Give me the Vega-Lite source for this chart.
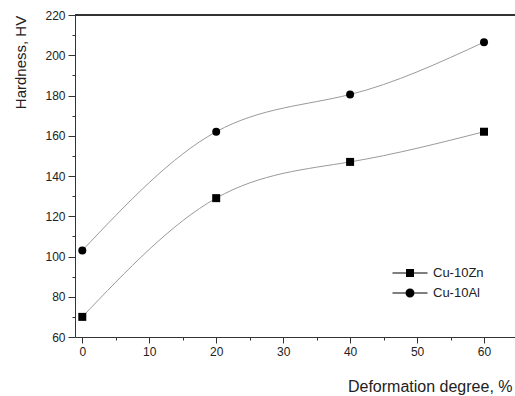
{
  "$schema": "https://vega.github.io/schema/vega-lite/v6.json",
  "width": 440,
  "height": 322,
  "autosize": {"type": "none"},
  "padding": {"left": 75, "top": 15, "right": 0, "bottom": 59},
  "background": "white",
  "config": {
    "view": {"stroke": null},
    "font": "Liberation Sans",
    "axis": {"grid": false, "domainColor": "#333", "tickColor": "#333", "labelColor": "#222", "titleColor": "#222", "labelFont": "Liberation Sans", "titleFont": "Liberation Sans", "titleFontWeight": "normal", "labelFontSize": 12}
  },
  "data": {
    "values": [
      {"deformation": 0, "hardness": 70, "alloy": "Cu-10Zn"},
      {"deformation": 20, "hardness": 129, "alloy": "Cu-10Zn"},
      {"deformation": 40, "hardness": 147, "alloy": "Cu-10Zn"},
      {"deformation": 60, "hardness": 162, "alloy": "Cu-10Zn"},
      {"deformation": 0, "hardness": 103, "alloy": "Cu-10Al"},
      {"deformation": 20, "hardness": 162, "alloy": "Cu-10Al"},
      {"deformation": 40, "hardness": 180.5, "alloy": "Cu-10Al"},
      {"deformation": 60, "hardness": 206.5, "alloy": "Cu-10Al"}
    ]
  },
  "layer": [
    {
      "mark": {"type": "rule", "color": "#333", "strokeWidth": 1},
      "encoding": {
        "y": {"datum": 220, "type": "quantitative", "scale": {"domain": [60, 220], "nice": false, "zero": false}, "axis": null}
      }
    },
    {
      "mark": {"type": "line", "interpolate": "natural", "color": "#9a9a9a", "strokeWidth": 1},
      "encoding": {
        "x": {"field": "deformation", "type": "quantitative", "scale": {"domain": [-1.09, 64.63], "nice": false, "zero": false},
          "axis": {"values": [0, 10, 20, 30, 40, 50, 60], "tickSize": 6, "labelPadding": 3, "title": "Deformation degree, %", "titleFontSize": 16, "titleX": 437, "titleY": 54, "titleAlign": "right", "titleBaseline": "alphabetic", "titleAnchor": null}},
        "y": {"field": "hardness", "type": "quantitative", "scale": {"domain": [60, 220], "nice": false, "zero": false},
          "axis": {"values": [60, 80, 100, 120, 140, 160, 180, 200, 220], "tickSize": 7, "labelPadding": 3, "title": "Hardness, HV", "titleFontSize": 15, "titleX": -55, "titleY": 47, "titleAlign": "center", "titleBaseline": "middle", "titleAngle": 270, "titleAnchor": null}},
        "detail": {"field": "alloy", "type": "nominal"}
      }
    },
    {
      "mark": {"type": "point", "filled": true, "color": "black", "opacity": 1, "size": 64},
      "encoding": {
        "x": {"field": "deformation", "type": "quantitative", "axis": null},
        "y": {"field": "hardness", "type": "quantitative", "axis": null},
        "shape": {"field": "alloy", "type": "nominal", "scale": {"domain": ["Cu-10Zn", "Cu-10Al"], "range": ["square", "circle"]}, "legend": null}
      }
    },
    {
      "transform": [{"filter": "datum.deformation > 1000"}],
      "mark": {"type": "point", "filled": true, "color": "black", "opacity": 1},
      "encoding": {
        "x": {"field": "deformation", "type": "quantitative",
          "axis": {"values": [5, 15, 25, 35, 45, 55], "orient": "bottom", "tickSize": 3, "labels": false, "domain": false, "title": null}},
        "y": {"field": "hardness", "type": "quantitative",
          "axis": {"values": [70, 90, 110, 130, 150, 170, 190, 210], "orient": "left", "tickSize": 3, "labels": false, "domain": false, "title": null}},
        "shape": {"field": "alloy", "type": "nominal",
          "scale": {"domain": ["Cu-10Zn", "Cu-10Al"], "range": [
            "M-1.75,-0.05H-0.4V0.05H-1.75ZM0.4,-0.05H1.75V0.05H0.4ZM-0.4,-0.4H0.4V0.4H-0.4Z",
            "M-1.75,-0.05H-0.45V0.05H-1.75ZM0.45,-0.05H1.75V0.05H0.45ZM0.45,0A0.45,0.45 0 1,1 -0.45,0A0.45,0.45 0 1,1 0.45,0Z"
          ]},
          "legend": {"title": null, "orient": "none", "legendX": 324, "legendY": 247, "symbolSize": 400, "labelFontSize": 13, "labelColor": "#222", "labelFont": "Liberation Sans", "labelOffset": 12, "padding": 0, "rowPadding": 2, "symbolFillColor": "black"}}
      }
    }
  ],
  "resolve": {"scale": {"shape": "independent"}, "axis": {"x": "independent", "y": "independent"}}
}
